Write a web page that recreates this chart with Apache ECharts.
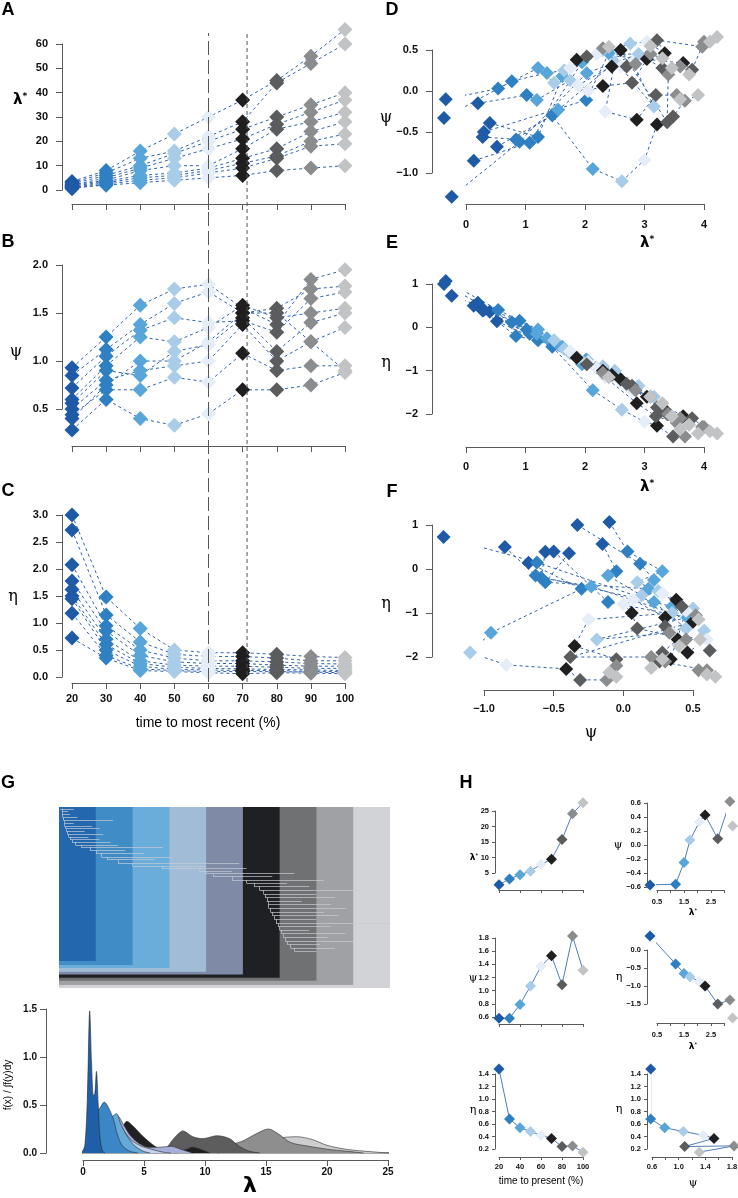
<!DOCTYPE html>
<html><head><meta charset="utf-8">
<script src="https://cdn.jsdelivr.net/npm/echarts/dist/echarts.min.js"></script>
<style>html,body{margin:0;padding:0;background:#fff}#c{width:738px;height:1198px}</style>
</head><body><div id="c"></div>
<script>
// ---------------- DATA ----------------
const times = [20, 30, 40, 50, 60, 70, 80, 90, 100];
const timeColors = ['#1f5aa6','#2f80c3','#58a5d9','#a9cde8','#e5edf8','#1f1f20','#5b5c5e','#8b8c8e','#c2c3c5'];

// Panel A: lambda* per simulation (rows) at each time (columns)
const aLambda = [
  [3.5, 8, 16, 23, 30, 37, 45, 55, 66],
  [3, 7, 13, 16, 22, 28, 44, 52, 60],
  [2.5, 6, 10, 15, 20, 25, 30, 35, 40],
  [2, 5, 9, 13, 17, 21, 27, 32, 37],
  [2, 4, 8, 10, 10, 17, 25, 28, 32],
  [1.5, 3.5, 6, 7, 9, 13, 17, 24, 28],
  [1, 3, 5, 6, 8, 11, 14, 20, 23],
  [0.5, 2.5, 4, 5, 7, 9, 13, 18, 19],
  [1, 2, 3, 4, 5, 6, 8, 9, 10]
];
// Panel B: psi
const bPsi = [
  [0.93, 1.25, 1.58, 1.75, 1.80, 1.55, 1.38, 1.85, 1.95],
  [0.85, 1.12, 1.38, 1.60, 1.72, 1.50, 1.55, 1.75, 1.78],
  [0.72, 1.05, 1.32, 1.45, 1.40, 1.42, 1.30, 1.65, 1.72],
  [0.60, 0.95, 1.25, 1.20, 1.35, 1.58, 1.45, 1.50, 1.55],
  [0.56, 0.90, 0.85, 1.10, 1.17, 1.45, 1.10, 1.40, 1.50],
  [0.50, 0.80, 0.90, 0.95, 1.00, 1.38, 1.00, 1.20, 1.35],
  [0.44, 0.70, 0.70, 0.83, 0.78, 1.08, 0.90, 0.95, 0.95],
  [0.28, 0.60, 0.40, 0.33, 0.45, 0.70, 0.70, 0.75, 0.88],
  [0.40, 0.75, 1.00, 1.00, 1.20, 1.50, 1.50, 1.20, 0.90]
];
// Panel C: eta
const cEta = [
  [3.00, 1.48, 0.90, 0.50, 0.45, 0.45, 0.42, 0.38, 0.36],
  [2.72, 1.15, 0.65, 0.42, 0.38, 0.38, 0.35, 0.30, 0.30],
  [2.08, 0.95, 0.50, 0.35, 0.30, 0.30, 0.28, 0.25, 0.24],
  [1.78, 0.85, 0.40, 0.28, 0.25, 0.25, 0.22, 0.20, 0.20],
  [1.62, 0.70, 0.30, 0.22, 0.20, 0.20, 0.18, 0.16, 0.16],
  [1.50, 0.60, 0.25, 0.18, 0.16, 0.15, 0.14, 0.13, 0.12],
  [1.45, 0.50, 0.20, 0.14, 0.13, 0.12, 0.12, 0.10, 0.10],
  [1.18, 0.40, 0.15, 0.12, 0.10, 0.10, 0.10, 0.09, 0.08],
  [0.72, 0.35, 0.12, 0.10, 0.08, 0.06, 0.08, 0.07, 0.06]
];
// Panels D-F: log-scale values per simulation
const dLogLambda = [
  [ 0.52, 1.45, 2.13, 2.62, 3.00, 3.21, 3.48, 3.68, 3.90],
  [-0.34, 0.54, 1.21, 1.48, 1.75, 1.86, 2.03, 2.30, 2.40],
  [-0.37, 0.77, 1.36, 1.65, 2.05, 2.30, 2.79, 3.10, 3.30],
  [ 0.20, 1.02, 1.19, 1.75, 1.88, 2.45, 2.70, 2.85, 3.10],
  [ 0.40, 1.21, 1.62, 2.30, 2.60, 3.04, 3.30, 3.60, 3.75],
  [ 0.28, 0.84, 1.55, 2.50, 2.34, 2.87, 3.19, 3.54, 3.60],
  [ 0.13, 1.07, 1.95, 2.76, 3.04, 3.34, 3.21, 3.97, 4.10],
  [-0.24, 0.90, 2.03, 2.90, 2.20, 3.65, 3.80, 4.00, 4.22],
  [ 0.30, 2.02, 2.40, 3.16, 2.80, 2.60, 3.38, 3.40, 3.46]
];
const dLogPsi = [
  [-0.68, -0.30, -0.95, -1.10, -0.84, -0.41, -0.31, -0.12, -0.05],
  [-0.10,  0.03,  0.28,  0.10,  0.28,  0.38,  0.42,  0.52,  0.54],
  [-0.33,  0.12,  0.22,  0.25,  0.00,  0.06,  0.10,  0.45,  0.40],
  [-0.15, -0.05, -0.11,  0.13,  0.07,  0.30,  0.30,  0.33,  0.55],
  [-0.39, -0.56,  0.18,  0.50,  0.30,  0.39,  0.28,  0.30,  0.20],
  [-0.56, -0.59, -0.23,  0.35, -0.25, -0.35, -0.05, -0.05, -0.10],
  [-0.85, -0.63,  0.35,  0.58,  0.60,  0.46,  0.62,  0.54,  0.60],
  [-1.29, -0.62,  0.22,  0.45,  0.45,  0.34,  0.26,  0.60,  0.66],
  [-0.50, -0.11,  0.46, -0.19,  0.35,  0.50, -0.38,  0.20,  0.28]
];
const dLogEta = [
  [0.14, -0.45, -1.45, -1.90, -2.18, -2.27, -2.52, -2.52, -2.45],
  [1.07,  0.40, -0.05, -0.30, -0.55, -0.70, -0.85, -1.05, -1.15],
  [1.00,  0.12, -0.25, -0.50, -0.80, -1.00, -1.35, -1.60, -1.75],
  [0.57, -0.05, -0.15, -0.60, -0.70, -1.10, -1.30, -1.45, -1.60],
  [0.36, -0.30, -0.45, -0.90, -1.25, -1.60, -1.90, -2.10, -2.25],
  [0.39, -0.20, -0.40, -1.00, -1.15, -1.75, -2.05, -2.20, -2.35],
  [0.50, -0.15, -0.85, -1.40, -1.60, -1.90, -1.85, -2.30, -2.40],
  [0.73,  0.15, -0.75, -1.35, -0.95, -2.05, -2.10, -2.30, -2.45],
  [0.40, -0.75, -1.10, -1.60, -1.45, -1.20, -2.00, -2.00, -2.05]
];
// Reference lines in A-C (time %)
const refLineLong = 60;
const refLineShort = 71.3;

// Panel G: bands (time cut-offs), bottoms (tree rank units 0-100)
const bandTimes = [20, 30, 40, 50, 60, 70, 80, 90, 100];
const bandColors = ['#2368ae','#3f8cc7','#6aaddb','#a0bcd6','#7f8ba6','#1f2023','#707173','#a0a1a4','#d2d3d6'];
const bandBottoms = [85.1, 87.3, 89.0, 91.0, 92.6, 94.3, 96.0, 98.3, 100];
// Tree (ladder): [rank y, node time, tip time]
const treeRows = [
  [1, 10.8, 14.0], [2.5, 10.8, 12.5], [4, 11.0, 13.0], [5.5, 11.2, 15.0], [7.3, 11.5, 24.7],
  [9, 11.5, 14.0], [10.5, 11.8, 19.0], [12, 12.0, 21.0], [13.5, 12.3, 17.0], [15, 12.6, 22.0],
  [16.5, 13.0, 18.0], [18, 13.5, 21.0], [19.5, 14.5, 24.0], [21, 16.0, 26.0], [22, 18.4, 38.3],
  [24, 20.0, 28.0], [25.5, 21.5, 33.0], [27.6, 23.0, 41.0], [29, 26.0, 36.0], [31, 30.0, 59.0],
  [32.5, 38.0, 50.0], [34, 48.0, 61.0], [35.5, 50.0, 57.0], [36.6, 52.0, 74.0], [38.5, 57.0, 68.0],
  [40.4, 61.0, 82.0], [42, 63.0, 72.0], [44, 64.5, 78.0], [46, 65.6, 92.0], [48, 66.0, 80.0],
  [50, 66.5, 85.0], [52, 66.8, 76.0], [54, 67.0, 84.0], [56, 67.5, 88.0], [58, 68.0, 82.0],
  [60, 68.5, 86.0], [62, 69.0, 80.0], [64.3, 69.5, 100.0], [66, 70.0, 84.0], [68, 70.5, 78.0],
  [70, 71.0, 88.0], [72, 71.5, 83.0], [74, 72.0, 90.0], [76, 73.0, 81.0], [78, 74.0, 85.0],
  [79.5, 75.0, 80.0]
];
// Density curves (lambda, density) for each time cut-off
const densityColors = ['#1f5fa9','#3a86c6','#65a9d8','#c2d2ec','#a6afd8','#212121','#5d5d5d','#8e8e8e','#cdcdd0'];
const density20 = [[-0.5,0],[-0.1,0.01],[0.15,0.08],[0.35,0.55],[0.55,1.48],[0.7,0.95],[0.85,0.6],[0.97,0.62],[1.1,0.85],[1.25,0.5],[1.4,0.15],[1.6,0.02],[1.8,0]];
const density30 = [[0.4,0],[0.7,0.12],[1.0,0.4],[1.35,0.46],[1.75,0.53],[2.1,0.47],[2.5,0.35],[2.8,0.2],[3.2,0.08],[3.8,0.02],[4.5,0]];
const density40 = [[0.9,0],[1.4,0.12],[1.9,0.3],[2.4,0.38],[2.75,0.41],[3.1,0.3],[3.6,0.18],[4.2,0.08],[4.9,0.02],[5.5,0]];
const density50 = [[1.2,0],[1.9,0.1],[2.5,0.25],[2.9,0.3],[3.4,0.22],[4.0,0.13],[4.8,0.07],[5.6,0.04],[6.5,0.01],[7.2,0]];
const density60 = [[1.5,0],[2.3,0.18],[2.9,0.38],[3.3,0.3],[3.9,0.18],[4.6,0.1],[5.4,0.06],[6.3,0.06],[7.2,0.07],[8.0,0.04],[9.0,0]];
const density70 = [[2.2,0],[2.9,0.15],[3.6,0.33],[4.1,0.28],[4.7,0.2],[5.3,0.13],[5.9,0.07],[6.6,0.02],[7.5,0.01],[8.3,0.03],[9.0,0.06],[9.6,0.04],[10.4,0]];
const density80 = [[6.0,0],[6.8,0.05],[7.5,0.16],[8.2,0.23],[9.0,0.17],[9.8,0.15],[11.0,0.18],[12.0,0.15],[12.8,0.07],[13.6,0.02],[14.5,0]];
const density90 = [[7.5,0],[9.5,0.03],[11.5,0.07],[13.0,0.12],[14.2,0.2],[15.2,0.25],[16.0,0.2],[17.0,0.11],[18.5,0.07],[20.0,0.04],[21.5,0.02],[23.0,0]];
const density100 = [[11.0,0],[13.0,0.05],[14.5,0.1],[15.8,0.15],[17.5,0.17],[18.8,0.14],[20.0,0.08],[21.5,0.04],[23.0,0.02],[24.5,0.005],[25.5,0]];
const densityCurves = [density20, density30, density40, density50, density60, density70, density80, density90, density100];

// Panel H: single simulation
const hLambda = [1.2, 3.1, 4.4, 5.6, 7.8, 9.4, 15.8, 24.1, 27.7];
const hPsi = [0.58, 0.58, 0.79, 1.07, 1.37, 1.53, 1.09, 1.83, 1.31];
const hEta = [1.48, 0.68, 0.54, 0.48, 0.42, 0.37, 0.24, 0.25, 0.15];
const hLogLambda = [0.24, 1.19, 1.50, 1.72, 2.07, 2.28, 2.75, 3.20, 3.30];
const hLogPsi = [-0.57, -0.56, -0.25, 0.07, 0.33, 0.43, 0.09, 0.62, 0.27];
const hLogEta = [0.39, -0.39, -0.65, -0.74, -0.88, -1.00, -1.50, -1.39, -1.89];

// ---------------- BUILD ----------------
const FONT = '"Liberation Sans", Arial, sans-serif';
const W = 738, H = 1198;
function merge(a, b) {
  const o = Object.assign({}, a);
  for (const k in b) {
    if (b[k] && typeof b[k] === 'object' && !Array.isArray(b[k]) && a && a[k] && typeof a[k] === 'object' && !Array.isArray(a[k])) o[k] = merge(a[k], b[k]);
    else o[k] = b[k];
  }
  return o;
}
const minus = v => String(v).replace('-', '\u2212');
const fx1 = v => minus((Math.round(v * 100) / 100).toFixed(1));
const fx0 = v => minus(Math.round(v));
const baseAxis = {
  type: 'value', splitLine: { show: false },
  axisLine: { show: true, onZero: false, lineStyle: { color: '#5a5a5a', width: 1 } },
  axisTick: { show: true, inside: false, length: 6, lineStyle: { color: '#5a5a5a', width: 1 } },
  axisLabel: { show: true, color: '#111', fontSize: 11, fontWeight: 'bold', fontFamily: FONT, margin: 14, showMinLabel: true, showMaxLabel: true }
};
const hiddenAxis = { type: 'value', show: false, splitLine: { show: false }, axisLine: { show: false, onZero: false } };
const grids = [], xAxes = [], yAxes = [], series = [];
function addGrid(rect, x, y) {
  const i = grids.length;
  grids.push(Object.assign({ containLabel: false, outerBoundsMode: 'none', show: false }, {
    left: rect[0], top: rect[1], width: rect[2] - rect[0], height: rect[3] - rect[1]
  }));
  xAxes.push(merge(x.hidden ? hiddenAxis : baseAxis, Object.assign({ gridIndex: i, position: 'bottom' }, x)));
  yAxes.push(merge(y.hidden ? hiddenAxis : baseAxis, Object.assign({ gridIndex: i, position: 'left' }, y)));
  return i;
}
function simPanel(gi, xs, ys, size) {
  for (let s = 0; s < xs.length; s++) {
    series.push({
      type: 'line', xAxisIndex: gi, yAxisIndex: gi, clip: false, symbol: 'none', silent: true, z: 2,
      data: xs[s].map((v, t) => [v, ys[s][t]]),
      lineStyle: { color: '#2f62ad', width: 1, type: [3, 3] }
    });
  }
  const pts = [];
  for (let t = 0; t < times.length; t++)
    for (let s = 0; s < xs.length; s++) pts.push([xs[s][t], ys[s][t], t]);
  series.push({
    type: 'scatter', xAxisIndex: gi, yAxisIndex: gi, clip: false, symbol: 'diamond', symbolSize: size, z: 3, silent: true,
    data: pts, itemStyle: { color: p => timeColors[p.data[2]], opacity: 1 }
  });
}
const timeMatrix = aLambda.map(() => times.slice());

// A
const gA = addGrid([72, 44, 345, 190], { min: 20, max: 100, interval: 10, offset: 14, axisLabel: { show: false } },
  { min: 0, max: 60, interval: 10, offset: 10, axisLabel: { formatter: fx0 } });
simPanel(gA, timeMatrix, aLambda, 15);
// B
const gB = addGrid([72, 265, 345, 409], { min: 20, max: 100, interval: 10, offset: 37, axisLabel: { show: false } },
  { min: 0.5, max: 2.0, interval: 0.5, offset: 10, axisLabel: { formatter: fx1 } });
simPanel(gB, timeMatrix, bPsi, 15);
// C
const gC = addGrid([72, 515, 345, 677], { min: 20, max: 100, interval: 10, offset: 6, axisLabel: { margin: 10, formatter: fx0 } },
  { min: 0, max: 3, interval: 0.5, offset: 10, axisLabel: { formatter: fx1 } });
simPanel(gC, timeMatrix, cEta, 15);
// reference vertical lines across A-C
const gV = addGrid([72, 33, 345, 682], { hidden: true, min: 20, max: 100 }, { hidden: true, min: 0, max: 1 });
series.push({ type: 'line', xAxisIndex: gV, yAxisIndex: gV, symbol: 'none', silent: true, z: 5, clip: false,
  data: [[refLineLong, 0], [refLineLong, 1]], lineStyle: { color: '#555', width: 1, type: [14, 5] } });
series.push({ type: 'line', xAxisIndex: gV, yAxisIndex: gV, symbol: 'none', silent: true, z: 5, clip: false,
  data: [[refLineShort, 0], [refLineShort, 1]], lineStyle: { color: '#555', width: 1, type: [4, 3] } });

// D
const gD = addGrid([466, 50, 704, 173], { min: 0, max: 4, interval: 1, offset: 31, axisLabel: { margin: 15, formatter: fx0 } },
  { min: -1, max: 0.5, interval: 0.5, offset: 34, axisLabel: { formatter: fx1 } });
simPanel(gD, dLogLambda, dLogPsi, 14);
// E
const gE = addGrid([466, 284, 704, 414], { min: 0, max: 4, interval: 1, offset: 33, axisLabel: { margin: 14, formatter: fx0 } },
  { min: -2, max: 1, interval: 1, offset: 34, axisLabel: { formatter: fx0 } });
simPanel(gE, dLogLambda, dLogEta, 14);
// F
const gF = addGrid([484, 525, 693, 657], { min: -1, max: 0.5, interval: 0.5, offset: 33, axisLabel: { margin: 13, formatter: fx1 } },
  { min: -2, max: 1, interval: 1, offset: 52, axisLabel: { formatter: fx0 } });
simPanel(gF, dLogPsi, dLogEta, 14);

// G bands + tree
const gG = addGrid([59, 807, 390, 988], { hidden: true, min: 10, max: 100 }, { hidden: true, min: 0, max: 100, inverse: true });
const bandData = [];
for (let i = bandTimes.length - 1; i >= 0; i--) bandData.push([bandTimes[i], bandBottoms[i], i]);
series.push({
  type: 'custom', xAxisIndex: gG, yAxisIndex: gG, silent: true, z: 1, data: bandData,
  renderItem: (params, api) => {
    const p0 = api.coord([10, 0]);
    const p1 = api.coord([api.value(0), api.value(1)]);
    return { type: 'rect', shape: { x: p0[0], y: p0[1], width: p1[0] - p0[0], height: p1[1] - p0[1] },
      style: { fill: bandColors[api.value(2)] } };
  }
});
const treeSegs = [];
treeSegs.push({ coords: [[10.3, treeRows[0][0]], [treeRows[0][1], treeRows[0][0]]] });
for (let k = 0; k < treeRows.length; k++) {
  const [y, nx, tx] = treeRows[k];
  const px = k === 0 ? nx : treeRows[k - 1][1];
  treeSegs.push({ coords: [[px, y], [tx, y]] });
  if (k < treeRows.length - 1) treeSegs.push({ coords: [[nx, y], [nx, treeRows[k + 1][0]]] });
}
series.push({ type: 'lines', coordinateSystem: 'cartesian2d', xAxisIndex: gG, yAxisIndex: gG, silent: true, z: 2,
  data: treeSegs, lineStyle: { color: '#c6cbd2', width: 0.7, opacity: 1 } });

// Density
const gDen = addGrid([83, 1009, 388, 1153], { min: 0, max: 25, interval: 5, offset: 7, axisLabel: { margin: 7, fontSize: 10, formatter: fx0 } },
  { min: 0, max: 1.5, interval: 0.5, offset: 37, axisLabel: { margin: 9, fontSize: 10, formatter: fx1 } });
series.push({ type: 'line', xAxisIndex: gDen, yAxisIndex: gDen, symbol: 'none', silent: true, clip: false, z: 1,
  data: [[-2.5, 0], [26, 0]], lineStyle: { color: '#555', width: 1 } });
for (let i = densityCurves.length - 1; i >= 0; i--) {
  series.push({ type: 'line', xAxisIndex: gDen, yAxisIndex: gDen, symbol: 'none', silent: true, clip: false, smooth: 0.3,
    z: 2 + (densityCurves.length - i) * 0.01,
    data: densityCurves[i], lineStyle: { color: '#2a2a2a', width: 0.6 }, areaStyle: { color: densityColors[i], opacity: 1 } });
}

// H panels
const hLab = { fontSize: 7.5, margin: 6 };
function hPanel(gi, xs, ys) {
  series.push({ type: 'line', xAxisIndex: gi, yAxisIndex: gi, clip: false, silent: true, symbol: 'diamond', symbolSize: 11,
    data: xs.map((v, t) => ({ value: [v, ys[t]], itemStyle: { color: timeColors[t] } })),
    lineStyle: { color: '#3d6eb4', width: 0.9 }, z: 3 });
}
const hTick = { length: 3 };
const halfLabels = v => (Math.abs(v - 0.5) < 1e-6 || Math.abs(v - 1.5) < 1e-6 || Math.abs(v - 2.5) < 1e-6) ? v.toFixed(1) : '';
const gH1 = addGrid([499, 811, 583, 873], { min: 20, max: 100, interval: 20, offset: 17, axisTick: hTick, axisLabel: { show: false } },
  { min: 5, max: 25, interval: 5, offset: 4, axisTick: hTick, axisLabel: merge(hLab, { formatter: fx0 }) });
hPanel(gH1, times, hLambda);
const gH2 = addGrid([657, 803, 724.5, 887], { min: 0.5, max: 3.0, interval: 0.5, offset: 3, axisTick: hTick,
    axisLabel: merge(hLab, { margin: 8, formatter: halfLabels }) },
  { min: -0.6, max: 0.6, interval: 0.2, offset: 10, axisTick: hTick, axisLabel: merge(hLab, { formatter: fx1 }) });
hPanel(gH2, hLogLambda, hLogPsi);
const gH3 = addGrid([499, 938, 583, 1017], { min: 20, max: 100, interval: 20, offset: 7, axisTick: hTick, axisLabel: { show: false } },
  { min: 0.6, max: 1.8, interval: 0.2, offset: 4, axisTick: hTick, axisLabel: merge(hLab, { formatter: fx1 }) });
hPanel(gH3, times, hPsi);
const gH4 = addGrid([657, 950, 724.5, 1004], { min: 0.5, max: 3.0, interval: 0.5, offset: 19, axisTick: hTick,
    axisLabel: merge(hLab, { margin: 8, formatter: halfLabels }) },
  { min: -1.5, max: 0, interval: 0.5, offset: 10, axisTick: hTick, axisLabel: merge(hLab, { formatter: fx1 }) });
hPanel(gH4, hLogLambda, hLogEta);
const gH5 = addGrid([499, 1074, 583, 1149], { min: 20, max: 100, interval: 20, offset: 8, axisTick: hTick, axisLabel: merge(hLab, { margin: 6, formatter: fx0 }) },
  { min: 0.2, max: 1.4, interval: 0.2, offset: 4, axisTick: hTick, axisLabel: merge(hLab, { formatter: fx1 }) });
hPanel(gH5, times, hEta);
const gH6 = addGrid([652, 1074, 732, 1149], { min: 0.6, max: 1.8, interval: 0.2, offset: 8, axisTick: hTick,
    axisLabel: merge(hLab, { margin: 6, formatter: v => { const r = Math.round(v * 10); return (r === 6 || r === 10 || r === 14 || r === 18) ? (r / 10).toFixed(1) : ''; } }) },
  { min: 0.2, max: 1.4, interval: 0.2, offset: 5, axisTick: hTick, axisLabel: merge(hLab, { formatter: fx1 }) });
hPanel(gH6, hPsi, hEta);

// ---------------- TEXT ----------------
function txt(text, x, y, font, extra) {
  return Object.assign({ type: 'text', x: x, y: y, silent: true, z: 100,
    style: { text: text, font: font, fill: '#000', align: 'center', verticalAlign: 'middle', textAlign: 'center', textVerticalAlign: 'middle' } }, extra || {});
}
function lamStar(x, y, size) {
  return { type: 'text', x: x, y: y, silent: true, z: 100,
    style: { text: '{a|λ}{b|*}', align: 'center', verticalAlign: 'middle', fill: '#000',
      rich: { a: { fontFamily: 'DejaVu Sans', fontWeight: 'bold', fontSize: size, fill: '#000' },
              b: { fontFamily: 'DejaVu Sans', fontWeight: 'bold', fontSize: Math.round(size * 0.6), fill: '#000', verticalAlign: 'top', padding: [0, 0, Math.round(size * 0.45), 0] } } } };
}
const LET = 'bold 18px "Liberation Sans", Arial, sans-serif';
const GR = '16px "DejaVu Serif", serif';
const graphics = [
  txt('A', 8, 10, LET), txt('B', 8, 242, LET), txt('C', 8, 491, LET),
  txt('D', 392, 10, LET), txt('E', 392, 243, LET), txt('F', 392, 492, LET),
  txt('G', 8, 783, LET), txt('H', 466, 783, LET),
  lamStar(20, 100, 15), txt('ψ', 16, 352, GR), txt('η', 13, 597, GR),
  txt('time to most recent (%)', 208, 723, '14px "Liberation Sans", Arial, sans-serif'),
  txt('ψ', 386, 118, GR), lamStar(647, 243, 15),
  txt('η', 386, 363, GR), lamStar(647, 487, 15),
  txt('η', 386, 604, GR), txt('ψ', 591, 733, GR),
  txt('f(x) / ∫f(y)dy', 8, 1085, '10px "Liberation Sans", Arial, sans-serif', { rotation: Math.PI / 2 }),
  txt('λ', 250, 1186, 'bold 22px "DejaVu Sans", sans-serif'),
  lamStar(474, 858, 9), txt('ψ', 618, 845, '11px "DejaVu Serif", serif'),
  txt('ψ', 473, 978, '11px "DejaVu Serif", serif'), txt('η', 619, 977, '11px "DejaVu Serif", serif'),
  txt('η', 473, 1110, '11px "DejaVu Serif", serif'), txt('η', 619, 1109, '11px "DejaVu Serif", serif'),
  lamStar(693, 913, 9), lamStar(693, 1047, 9),
  txt('time to present (%)', 541, 1181, '10px "Liberation Sans", Arial, sans-serif'),
  txt('ψ', 693, 1183, '11px "DejaVu Serif", serif')
];

const chart = echarts.init(document.getElementById('c'), null, { renderer: 'canvas', width: W, height: H });
chart.setOption({
  backgroundColor: '#fff', animation: false,
  grid: grids, xAxis: xAxes, yAxis: yAxes, series: series,
  graphic: { elements: graphics }
});
</script>
</body></html>
